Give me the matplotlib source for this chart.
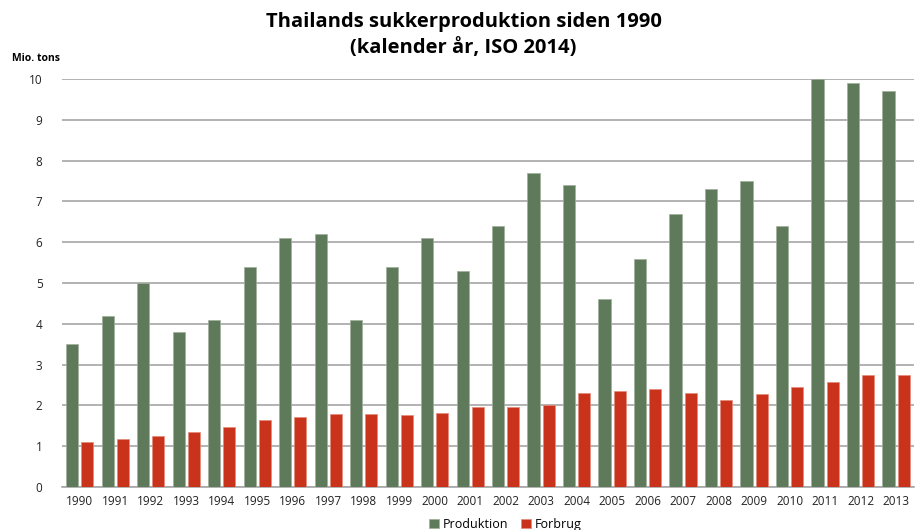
import numpy as np
import matplotlib.pyplot as plt

plt.rcParams['font.family'] = ['Open Sans', 'DejaVu Sans']

years = [str(y) for y in range(1990, 2014)]
produktion = [3.5, 4.2, 5.0, 3.8, 4.1, 5.4, 6.1, 6.2, 4.1, 5.4, 6.1, 5.3,
              6.4, 7.7, 7.4, 4.6, 5.6, 6.7, 7.3, 7.5, 6.4, 10.0, 9.9, 9.7]
forbrug = [1.1, 1.18, 1.26, 1.36, 1.47, 1.64, 1.71, 1.80, 1.80, 1.77, 1.81, 1.95,
           1.97, 2.01, 2.30, 2.35, 2.40, 2.30, 2.13, 2.28, 2.46, 2.57, 2.75, 2.75]

fig = plt.figure(figsize=(9.18, 5.30), dpi=100)
ax = fig.add_axes([0.0675, 0.081, 0.928, 0.770])

x = np.arange(len(years))
w = 0.34
ax.bar(x - 0.215, produktion, w, color='#5E7A5A', edgecolor='#9FB09C', linewidth=0.5,
       label='Produktion', zorder=3)
ax.bar(x + 0.215, forbrug, w, color='#C9321B', edgecolor='#E58A7A', linewidth=0.5,
       label='Forbrug', zorder=3)

ax.set_xlim(-0.5, len(years) - 0.5)
ax.set_ylim(0, 10)
ax.set_yticks(range(0, 11))
ax.set_xticks(x)
ax.set_xticklabels(years)
ax.tick_params(axis='both', length=0, labelsize=8.5, colors='#222222')
ax.tick_params(axis='y', pad=14)
ax.tick_params(axis='x', pad=6)
ax.grid(axis='y', color='#A6A6A6', linewidth=1.2, zorder=0)
for s in ['left', 'right', 'top']:
    ax.spines[s].set_visible(False)
ax.spines['bottom'].set_color('#A6A6A6')
ax.spines['bottom'].set_linewidth(1.2)

fig.text(0.505, 0.978, 'Thailands sukkerproduktion siden 1990\n(kalender år, ISO 2014)',
         ha='center', va='top', fontsize=14.5, fontweight='bold', linespacing=1.45)
fig.text(0.013, 0.89, 'Mio. tons', fontsize=7.5, fontweight='bold', va='center')

ax.legend(loc='lower center', bbox_to_anchor=(0.52, -0.135), ncol=2, frameon=False,
          fontsize=9, handlelength=0.8, handleheight=0.8, handletextpad=0.3,
          columnspacing=1.0)

fig.savefig('out.png', dpi=100)
